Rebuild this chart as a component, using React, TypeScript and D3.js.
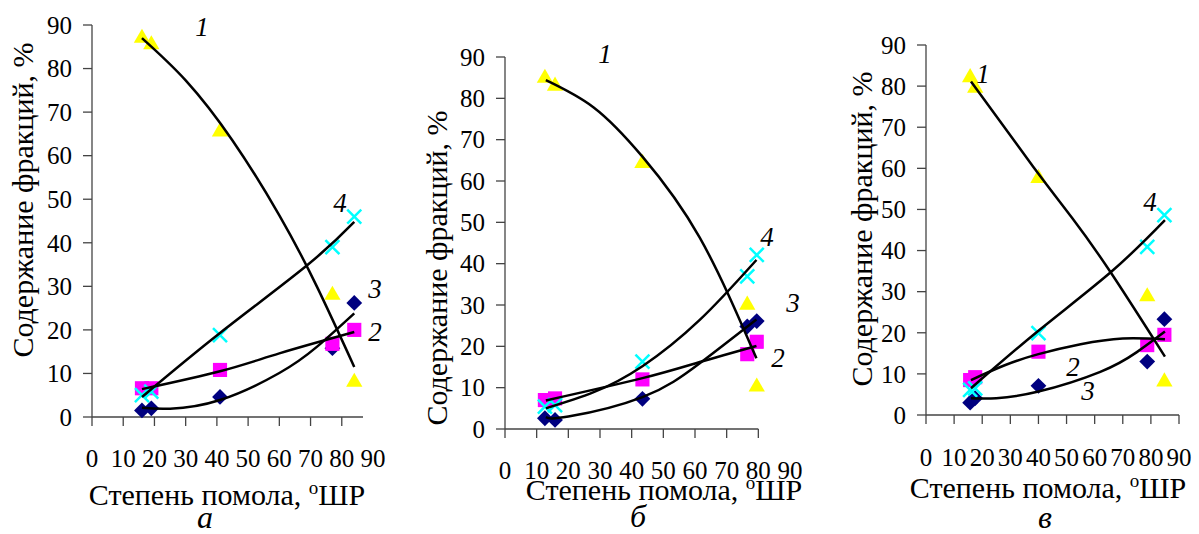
import React from 'react';
import * as d3 from 'd3';

// tick labels shared by the three panels
const yTickValues = [0, 10, 20, 30, 40, 50, 60, 70, 80, 90];
const xTickValues = [0, 10, 20, 30, 40, 50, 60, 70, 80, 90];
const curveNames = ['1', '2', '3', '4'];
const panelLetters = ['а', 'б', 'в'];

// panel а
const xA = [16, 19, 41, 77, 84];
const triA = [87, 85.5, 65.5, 28, 8];
const diaA = [1.5, 2, 4.6, 15.8, 26.2];
const sqA = [6.6, 6.6, 10.8, 16.8, 20];
const crossA = [5, 5.8, 18.8, 39, 46];
const trend1A = [[16, 87], [30, 77.3], [45, 63.5], [60, 46.3], [72, 30], [84, 11.5]];
const trend2A = [[16, 6.4], [41, 10.5], [60, 14.6], [84, 19.5]];
const trend3A = [[16, 2.1], [25, 1.9], [41, 3.9], [60, 10.1], [72, 16.1], [84, 23.8]];
const trend4A = [[16, 4.6], [41, 19.3], [69, 34.9], [84, 44.8]];

// panel б
const xB = [12.6, 15.8, 43.4, 76.5, 79.5];
const triB = [84.9, 83, 64.3, 30, 10.2];
const diaB = [2.6, 2.2, 7.3, 24.8, 26.1];
const sqB = [7, 7.4, 12, 18.1, 21.1];
const crossB = [5.4, 5.8, 16.3, 36.9, 42.1];
const trend1B = [[12.9, 84.4], [28, 77.8], [43.4, 65.9], [61.5, 46.3], [79.4, 17.1]];
const trend2B = [[12.9, 6.9], [43.4, 12.3], [61.5, 16.2], [79.4, 20.1]];
const trend3B = [[12.9, 2.9], [20, 3.0], [43.4, 7.7], [61.5, 15.9], [79.4, 26.5]];
const trend4B = [[12.9, 5], [28, 8.9], [43.4, 15.2], [61.5, 26.4], [79.4, 40.9]];

// panel в
const xC = [15.7, 17.5, 40, 78.7, 84.8];
const triC = [82.1, 79.5, 57.6, 28.8, 8.1];
const diaC = [3, 4.1, 7.1, 13, 23.3];
const sqC = [8.5, 9.2, 15.4, 17, 19.5];
const crossC = [6.1, 6.5, 19.9, 40.9, 48.6];
const trend1C = [[16, 81.1], [38, 60.5], [52, 47.9], [65.5, 34.9], [85, 14.2]];
const trend2C = [[16, 8.5], [28, 12.1], [40, 14.8], [55, 17.2], [70, 18.6], [85, 18.4]];
const trend3C = [[16, 4.1], [25, 4.1], [40, 5.7], [62, 10.5], [75, 15.3], [85, 20.3]];
const trend4C = [[16, 6.5], [40, 20.5], [66, 34.9], [85, 47.4]];

const FONT = "'Liberation Serif', 'DejaVu Serif', serif";
const AXIS = '#444';

const panels = [
  {
    xs: xA, tri: triA, dia: diaA, sq: sqA, cross: crossA,
    trends: [trend1A, trend2A, trend3A, trend4A],
    left: 92, right: 373, bottom: 417, top: 25, axisEnd: 86.8, lastTick: 80,
    tickBase: 467, titleX: 227, titleBase: 505, letterX: 205, letterBase: 528,
    yTitleX: 33, yTitleY: 200,
    labels: [[202, 36], [375, 341], [375, 298], [340, 212]],
  },
  {
    xs: xB, tri: triB, dia: diaB, sq: sqB, cross: crossB,
    trends: [trend1B, trend2B, trend3B, trend4B],
    left: 505, right: 790, bottom: 429, top: 57, axisEnd: 80, lastTick: 80,
    tickBase: 479, titleX: 664, titleBase: 500, letterX: 638, letterBase: 527,
    yTitleX: 447, yTitleY: 268,
    labels: [[605, 63], [778, 367], [793, 312], [767, 246]],
  },
  {
    xs: xC, tri: triC, dia: diaC, sq: sqC, cross: crossC,
    trends: [trend1C, trend2C, trend3C, trend4C],
    left: 926, right: 1179, bottom: 415, top: 45, axisEnd: 90, lastTick: 90,
    tickBase: 466, titleX: 1048, titleBase: 498, letterX: 1045, letterBase: 528,
    yTitleX: 872, yTitleY: 229,
    labels: [[983, 83], [1073, 376], [1088, 400], [1150, 211]],
  },
];

const triPath = d3.symbol(d3.symbolTriangle, 115)();
const sqPath = d3.symbol(d3.symbolSquare, 200)();
const diaPath = d3.symbol(d3.symbolSquare, 125)();

function Panel({ p, idx }) {
  const x = d3.scaleLinear().domain([0, 90]).range([p.left, p.right]);
  const y = d3.scaleLinear().domain([0, 90]).range([p.bottom, p.top]);
  const line = d3.line().x(d => x(d[0])).y(d => y(d[1])).curve(d3.curveNatural);

  return (
    <g>
      {/* axes */}
      <line x1={x(0)} x2={x(0)} y1={y(0)} y2={y(90)} stroke={AXIS} strokeWidth={1.3} />
      <line x1={x(0)} x2={x(p.axisEnd)} y1={y(0)} y2={y(0)} stroke={AXIS} strokeWidth={1.3} />
      {yTickValues.map(v => (
        <g key={'y' + v}>
          <line x1={x(0) - 9} x2={x(0)} y1={y(v)} y2={y(v)} stroke={AXIS} strokeWidth={1.3} />
          <text x={x(0) - 20} y={y(v)} dy="0.35em" textAnchor="end" fontSize={25}>{v}</text>
        </g>
      ))}
      {xTickValues.map(v => (
        <g key={'x' + v}>
          {v <= p.lastTick && (
            <line x1={x(v)} x2={x(v)} y1={y(0)} y2={y(0) + 9} stroke={AXIS} strokeWidth={1.3} />
          )}
          <text x={x(v)} y={p.tickBase} textAnchor="middle" fontSize={25}>{v}</text>
        </g>
      ))}

      {/* markers */}
      {p.xs.map((xv, i) => (
        <path key={'t' + i} d={triPath} transform={`translate(${x(xv)},${y(p.tri[i])})`} fill="#FFFF00" />
      ))}
      {p.xs.map((xv, i) => (
        <path key={'d' + i} d={diaPath} transform={`translate(${x(xv)},${y(p.dia[i])}) rotate(45)`} fill="#000080" />
      ))}
      {p.xs.map((xv, i) => (
        <path key={'s' + i} d={sqPath} transform={`translate(${x(xv)},${y(p.sq[i])})`} fill="#FF00FF" />
      ))}
      {p.xs.map((xv, i) => (
        <path key={'c' + i} d="M-7,-7L7,7M-7,7L7,-7" transform={`translate(${x(xv)},${y(p.cross[i])})`}
          stroke="#00FFFF" strokeWidth={2.5} fill="none" />
      ))}

      {/* trend lines */}
      {p.trends.map((t, i) => (
        <path key={'tr' + i} d={line(t)} fill="none" stroke="#000" strokeWidth={2.5} />
      ))}
      {p.labels.map((l, i) => (
        <text key={'l' + i} x={l[0]} y={l[1]} textAnchor="middle" fontSize={27} fontStyle="italic">
          {curveNames[i]}
        </text>
      ))}

      {/* titles */}
      <text x={p.titleX} y={p.titleBase} textAnchor="middle" fontSize={30}>
        Степень помола, <tspan fontSize={19} dy={-11}>o</tspan><tspan dy={11}>ШР</tspan>
      </text>
      <text transform={`translate(${p.yTitleX},${p.yTitleY}) rotate(-90)`} textAnchor="middle" fontSize={30}>
        Содержание фракций, %
      </text>
      <text x={p.letterX} y={p.letterBase} textAnchor="middle" fontSize={32} fontStyle="italic">
        {panelLetters[idx]}
      </text>
    </g>
  );
}

export default function App() {
  return (
    <svg width={1199} height={534}
      style={{ position: 'absolute', left: 0, top: 0, background: '#fff', fontFamily: FONT }}>
      {panels.map((p, i) => <Panel key={i} p={p} idx={i} />)}
    </svg>
  );
}
